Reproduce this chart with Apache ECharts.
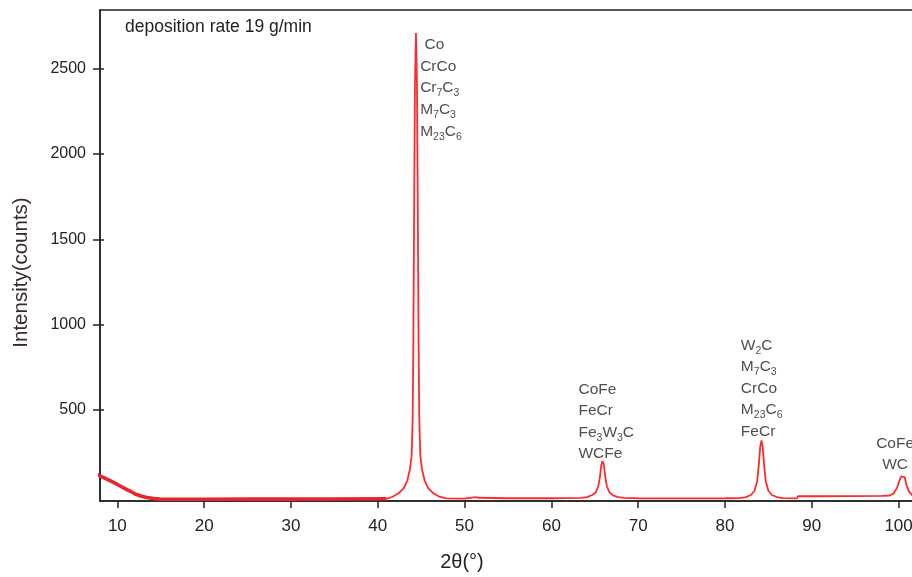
<!DOCTYPE html>
<html>
<head>
<meta charset="utf-8">
<script src="https://cdn.jsdelivr.net/npm/echarts@6/dist/echarts.min.js"></script>
<style>
html,body{margin:0;padding:0;overflow:hidden;background:#fff;width:912px;height:577px;}
#chart{width:960px;height:577px;}
</style>
</head>
<body>
<div id="chart"></div>
<script>
// ---- data ----
// low-angle part of the scan (drawn thicker in the reference)
const lowAngleX = [7.44, 8, 8.6, 9.16, 10, 10.77, 11.5, 12.05, 12.7, 13.4, 14.2, 14.9, 16, 20, 25, 30, 35, 41];
const lowAngleY = [128, 112, 98, 84, 62, 41, 22, 6, -6, -15, -21, -24, -25, -25, -24, -24, -23, -22];
// rest of the scan
const scanX = [41, 41.7, 42.4, 43.0, 43.4, 43.7, 43.9, 44.02, 44.1, 44.18, 44.28, 44.4, 44.52, 44.62, 44.7, 44.78, 44.9, 45.1, 45.4, 45.8, 46.4, 47.1, 47.9,
  50, 50.1, 51.3, 51.4, 51.6, 55, 60, 63.4, 64.1, 64.7, 65.1, 65.4, 65.6, 65.75, 65.9, 66.05, 66.2, 66.4, 66.7, 67.1, 67.7, 68.4, 70, 75, 80,
  81.7, 82.4, 83.0, 83.4, 83.7, 83.9, 84.05, 84.2, 84.35, 84.5, 84.7, 85.0, 85.4, 86.0, 86.7, 88.3, 88.4, 90, 95, 98,
  98.9, 99.4, 99.8, 100.1, 100.3, 100.5, 100.7, 100.9, 101.2, 101.6, 102.2, 103];
const scanY = [-22, -10, 10, 40, 85, 150, 230, 450, 900, 1600, 2400, 2710, 2400, 1600, 900, 450, 230, 150, 85, 40, 10, -10, -20,
  -21, -13, -12, -8, -16, -19, -19, -17, -12, 0, 15, 50, 110, 175, 200, 175, 110, 50, 15, -2, -12, -17, -19, -20, -19,
  -18, -12, 0, 25, 80, 180, 280, 320, 280, 180, 80, 25, 0, -12, -18, -20, -7, -7, -6, -5,
  -4, 8, 40, 85, 110, 120, 105, 60, 20, -2, -10, -12];
// tick values
const xTicks = [10, 20, 30, 40, 50, 60, 70, 80, 90, 100];
const yTicks = [500, 1000, 1500, 2000, 2500];
// phase annotations: anchor (2θ, counts) of the block's top-left (or top-centre) and its lines
const annotX = [44.88, 63.12, 81.83, 99.6];
const annotY = [2703, 684, 941, 367];
const annotLines = [
  [' Co', 'CrCo', 'Cr{s|7}C{s|3}', 'M{s|7}C{s|3}', 'M{s|23}C{s|6}'],
  ['CoFe', 'FeCr', 'Fe{s|3}W{s|3}C', 'WCFe'],
  ['W{s|2}C', 'M{s|7}C{s|3}', 'CrCo', 'M{s|23}C{s|6}', 'FeCr'],
  ['CoFe', 'WC']
];
const annotAlign = ['left', 'left', 'left', 'center'];
const noteText = 'deposition rate 19 g/min';

// ---- chart ----
const FONT = '"Liberation Sans", Arial, sans-serif';
const lineA = lowAngleX.map((x, i) => [x, lowAngleY[i]]);
const lineB = scanX.map((x, i) => [x, scanY[i]]);
const annotData = annotX.map((x, i) => ({
  value: [x, annotY[i]],
  label: {
    formatter: annotLines[i].join('\n'),
    align: annotAlign[i]
  }
}));

const chart = echarts.init(document.getElementById('chart'), null, {renderer: 'canvas'});
chart.setOption({
  animation: false,
  backgroundColor: '#fff',
  title: {
    text: noteText, left: 120, top: 13,
    textStyle: {fontFamily: FONT, fontSize: 17.5, fontWeight: 'normal', color: '#222'}
  },
  grid: {left: 100, top: 10, right: 18, bottom: 74, show: true, borderColor: '#222', borderWidth: 1.5},
  xAxis: {
    type: 'value', min: 8, max: 105,
    name: '2θ(°)', nameLocation: 'middle', nameGap: 51,
    nameTextStyle: {fontFamily: FONT, fontSize: 20, color: '#222', padding: [0, 118, 0, 0]},
    axisLine: {show: true, onZero: false, lineStyle: {color: '#222', width: 1.5}},
    axisTick: {show: true, inside: false, length: 7, customValues: xTicks, lineStyle: {color: '#222', width: 1.5}},
    axisLabel: {margin: 17, customValues: xTicks, fontFamily: FONT, fontSize: 17, color: '#222'},
    splitLine: {show: false}
  },
  yAxis: [{
    type: 'value', min: -35, max: 2845,
    name: 'Intensity(counts)', nameLocation: 'middle', nameGap: 68, nameRotate: 90,
    nameTextStyle: {fontFamily: FONT, fontSize: 20.5, color: '#3a2b2b', padding: [0, 34, 0, 0]},
    axisLine: {show: true, onZero: false, lineStyle: {color: '#222', width: 1.5}},
    axisTick: {show: true, length: 7, customValues: yTicks, lineStyle: {color: '#222', width: 1.5}},
    axisLabel: {margin: 14, customValues: yTicks, fontFamily: FONT, fontSize: 16, color: '#222',
      formatter: v => String(v)},
    splitLine: {show: false}
  }, {
    type: 'value', min: -35, max: 2845, position: 'left',
    axisLine: {show: false},
    axisTick: {show: true, inside: true, length: 4, customValues: yTicks, lineStyle: {color: '#222', width: 1.5}},
    axisLabel: {show: false},
    splitLine: {show: false}
  }],
  series: [{
    type: 'line', data: lineA, showSymbol: false, symbol: 'none',
    lineStyle: {color: '#e8242c', width: 3.6}, z: 3
  }, {
    type: 'line', data: lineB, showSymbol: false, symbol: 'none',
    lineStyle: {color: '#ff2a2a', width: 1.8}, z: 3
  }, {
    type: 'scatter', data: annotData, symbolSize: 0, z: 5, silent: true,
    label: {
      show: true, position: 'insideTopLeft', distance: 0,
      fontFamily: FONT, fontSize: 15.5, lineHeight: 21.6, color: '#222',
      rich: {
        s: {fontFamily: FONT, fontSize: 10.5, lineHeight: 19, verticalAlign: 'bottom', color: '#222'}
      }
    }
  }]
});
</script>
</body>
</html>
